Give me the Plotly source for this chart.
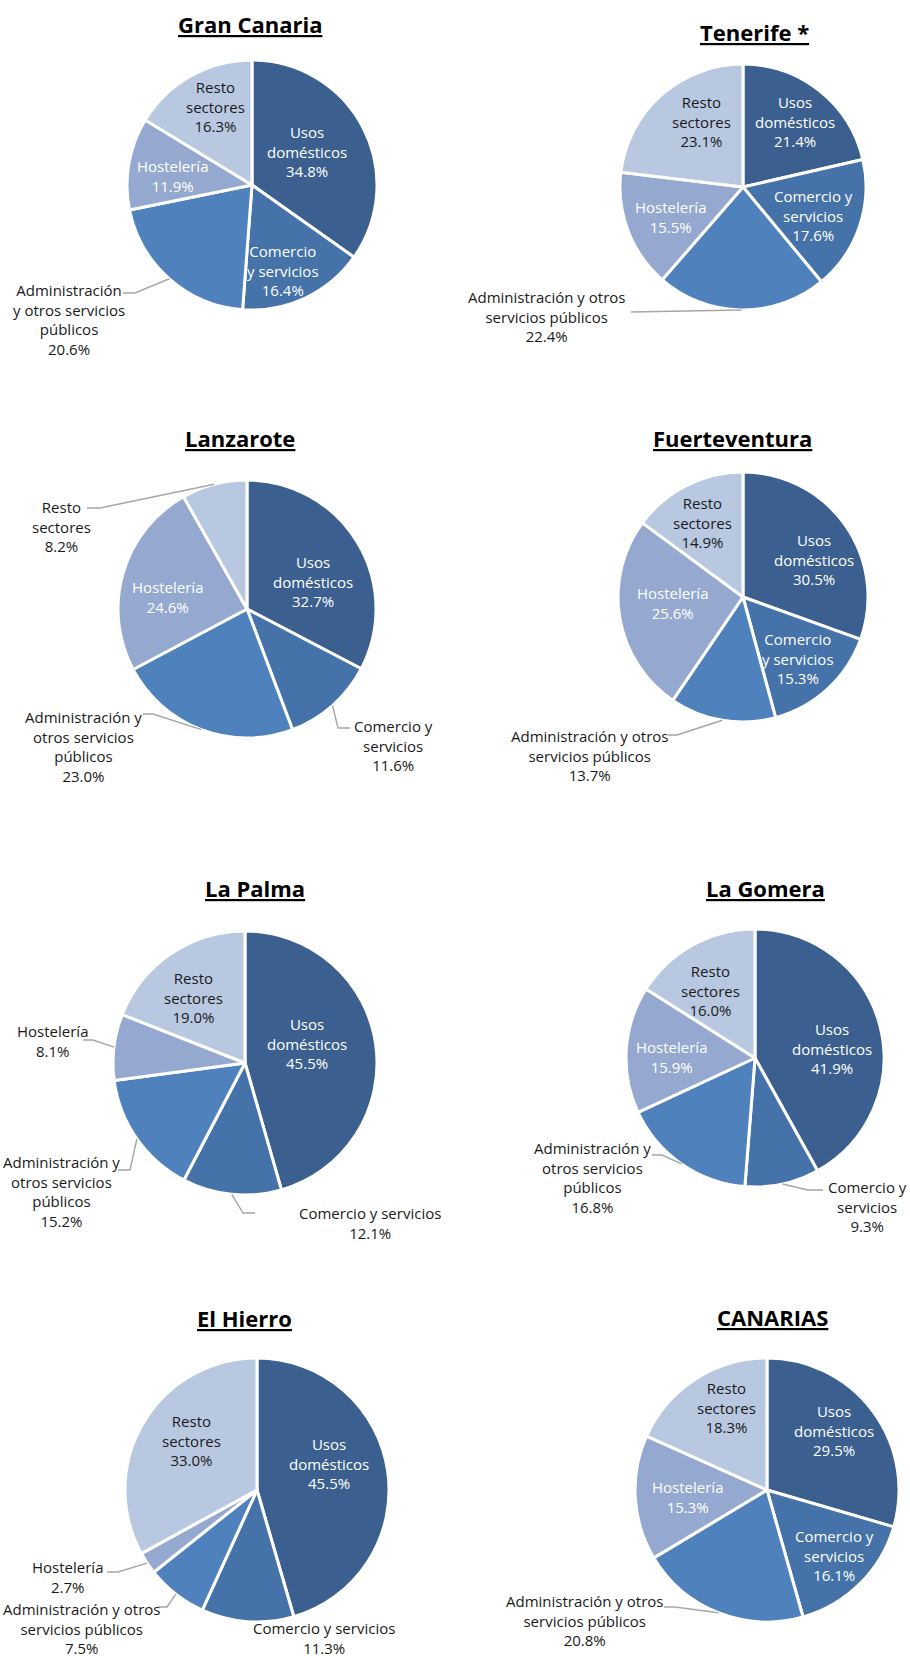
import math
import plotly.graph_objects as go

W, H = 910, 1656

# Sectors, in clockwise order starting at 12 o'clock
sectors = ["Usos domésticos", "Comercio y servicios",
           "Administración y otros servicios públicos", "Hostelería", "Resto sectores"]

islands = ["Gran Canaria", "Tenerife *", "Lanzarote", "Fuerteventura",
           "La Palma", "La Gomera", "El Hierro", "CANARIAS"]

# Share of each sector (%), per island
gran_canaria = [34.8, 16.4, 20.6, 11.9, 16.3]
tenerife = [21.4, 17.6, 22.4, 15.5, 23.1]
lanzarote = [32.7, 11.6, 23.0, 24.6, 8.2]
fuerteventura = [30.5, 15.3, 13.7, 25.6, 14.9]
la_palma = [45.5, 12.1, 15.2, 8.1, 19.0]
la_gomera = [41.9, 9.3, 16.8, 15.9, 16.0]
el_hierro = [45.5, 11.3, 7.5, 2.7, 33.0]
canarias = [29.5, 16.1, 20.8, 15.3, 18.3]

values = [gran_canaria, tenerife, lanzarote, fuerteventura,
          la_palma, la_gomera, el_hierro, canarias]

colors = ["#3B5F8F", "#4572A8", "#4F81BD", "#95A9D0", "#B9C8E1"]
inside_font = ["white", "white", "white", "white", "#1a1a1a"]
OUT_FONT = "#1a1a1a"
LEADER = "#A6A6A6"
FONT = "Open Sans"

# Pie placement: centre (px), radius (px), title centre (px)
pies = [
    dict(c=(252, 185), r=125, t=(250, 24)),
    dict(c=(743, 187), r=123, t=(754, 32)),
    dict(c=(247, 609), r=129, t=(240, 438)),
    dict(c=(743, 597), r=125, t=(732, 438)),
    dict(c=(245, 1063), r=132, t=(255, 888)),
    dict(c=(755, 1058), r=129, t=(765, 888)),
    dict(c=(257, 1490), r=132, t=(244, 1318)),
    dict(c=(767, 1490), r=132, t=(772, 1317)),
]

# Label text per sector (line breaks) and placement for each island:
# ("in", x, y) or ("out", x, y, [leader vertices after the arc point])
labels = [
    [("Usos<br>domésticos", "in", 307, 152),
     ("Comercio<br>y servicios", "in", 283, 270),
     ("Administración<br>y otros servicios<br>públicos", "out", 69, 320, [(135, 293), (123, 293)]),
     ("Hostelería", "in", 172, 176),
     ("Resto<br>sectores", "in", 215, 106)],
    [("Usos<br>domésticos", "in", 795, 122),
     ("Comercio y<br>servicios", "in", 813, 215),
     ("Administración y otros<br>servicios públicos", "out", 546, 317, [(631, 312)]),
     ("Hostelería", "in", 670, 217),
     ("Resto<br>sectores", "in", 701, 122)],
    [("Usos<br>domésticos", "in", 313, 581),
     ("Comercio y<br>servicios", "out", 393, 745, [(338, 728), (350, 728)]),
     ("Administración y<br>otros servicios<br>públicos", "out", 83, 746, [(153, 714), (143, 714)]),
     ("Hostelería", "in", 167, 597),
     ("Resto<br>sectores", "out", 62, 526, [(100, 508), (87, 508)])],
    [("Usos<br>domésticos", "in", 814, 560),
     ("Comercio<br>y servicios", "in", 798, 658),
     ("Administración y otros<br>servicios públicos", "out", 589, 755, [(677, 735), (668, 735)]),
     ("Hostelería", "in", 672, 603),
     ("Resto<br>sectores", "in", 702, 523)],
    [("Usos<br>domésticos", "in", 307, 1043),
     ("Comercio y servicios", "out", 370, 1223, [(243, 1213), (255, 1213)]),
     ("Administración y<br>otros servicios<br>públicos", "out", 61, 1191, [(130, 1170), (118, 1170)]),
     ("Hostelería", "out", 52, 1041, [(93, 1040), (83, 1040)]),
     ("Resto<br>sectores", "in", 193, 997)],
    [("Usos<br>domésticos", "in", 832, 1048),
     ("Comercio y<br>servicios", "out", 867, 1206, [(808, 1190), (823, 1190)]),
     ("Administración y<br>otros servicios<br>públicos", "out", 592, 1177, [(662, 1155), (652, 1155)]),
     ("Hostelería", "in", 671, 1057),
     ("Resto<br>sectores", "in", 710, 990)],
    [("Usos<br>domésticos", "in", 329, 1463),
     ("Comercio y servicios", "out", 324, 1638, None),
     ("Administración y otros<br>servicios públicos", "out", 81, 1628, [(167, 1607), (158, 1607)]),
     ("Hostelería", "out", 67, 1577, [(118, 1572), (107, 1572)]),
     ("Resto<br>sectores", "in", 191, 1440)],
    [("Usos<br>domésticos", "in", 834, 1430),
     ("Comercio y<br>servicios", "in", 834, 1555),
     ("Administración y otros<br>servicios públicos", "out", 584, 1620, [(675, 1607), (664, 1607)]),
     ("Hostelería", "in", 687, 1497),
     ("Resto<br>sectores", "in", 726, 1407)],
]


def px(x, y):
    return x / W, 1 - y / H


fig = go.Figure()
annotations = []
shapes = []

for name, vals, geo, labs in zip(islands, values, pies, labels):
    cx, cy = geo["c"]
    r = geo["r"]
    x0, y1 = px(cx - r, cy - r)
    x1, y0 = px(cx + r, cy + r)
    fig.add_trace(go.Pie(
        labels=sectors, values=vals, sort=False, direction="clockwise",
        rotation=0, textinfo="none", hole=0,
        marker=dict(colors=colors, line=dict(color="white", width=3)),
        domain=dict(x=[x0, x1], y=[y0, y1]),
        showlegend=False, name=name,
    ))

    # title
    tx, ty = px(*geo["t"])
    annotations.append(dict(
        x=tx, y=ty, xref="paper", yref="paper", showarrow=False,
        text=f"<b><u>{name}</u></b>", xanchor="center", yanchor="middle",
        font=dict(family=FONT, size=22, color="black")))

    total = sum(vals)
    cum = 0.0
    for i, (v, lab) in enumerate(zip(vals, labs)):
        mid = (cum + v / 2) / total * 2 * math.pi
        cum += v
        text = f"{lab[0]}<br>{v:.1f}%"
        lx, ly = px(lab[2], lab[3])
        color = inside_font[i] if lab[1] == "in" else OUT_FONT
        annotations.append(dict(
            x=lx, y=ly, xref="paper", yref="paper", showarrow=False,
            text=text, xanchor="center", yanchor="middle",
            font=dict(family=FONT, size=15, color=color)))
        if lab[1] == "out" and lab[4]:
            sx = cx + r * math.sin(mid)
            sy = cy - r * math.cos(mid)
            pts = [(sx, sy)] + list(lab[4])
            path = "M " + " L ".join(
                f"{px(a, b)[0]:.5f},{px(a, b)[1]:.5f}" for a, b in pts)
            shapes.append(dict(type="path", path=path, xref="paper", yref="paper",
                               line=dict(color=LEADER, width=1.4)))

fig.update_layout(
    width=W, height=H, margin=dict(l=0, r=0, t=0, b=0),
    paper_bgcolor="white", plot_bgcolor="white",
    annotations=annotations, shapes=shapes,
    font=dict(family=FONT),
)

fig.write_html("out.html")
